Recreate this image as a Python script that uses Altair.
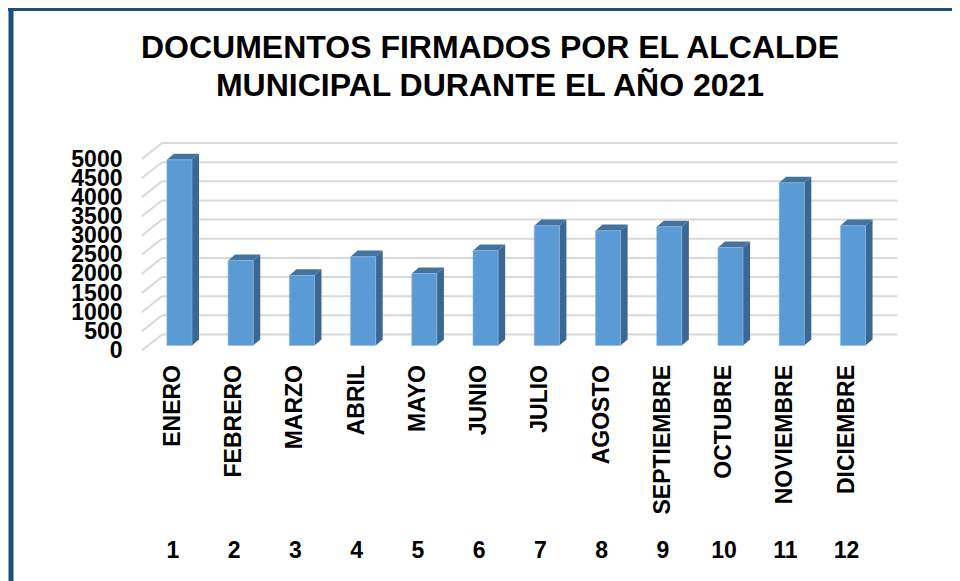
import altair as alt
import pandas as pd

# ---- data ----
months = ["ENERO", "FEBRERO", "MARZO", "ABRIL", "MAYO", "JUNIO",
          "JULIO", "AGOSTO", "SEPTIEMBRE", "OCTUBRE", "NOVIEMBRE", "DICIEMBRE"]
index = list(range(1, 13))
values = [4850, 2220, 1830, 2320, 1880, 2480, 3130, 3000, 3100, 2560, 4250, 3130]
grid_values = list(range(0, 5001, 500))

title_lines = ["DOCUMENTOS FIRMADOS POR EL ALCALDE",
               "MUNICIPAL DURANTE EL AÑO 2021"]

# ---- pseudo-3D geometry (style constants, in scale units) ----
X_DOMAIN = [0.2, 13.2]
Y_DOMAIN = [-300, 5500]
BAR_L, BAR_R = -0.10, 0.31      # front face relative to category position
DEPTH_X, DEPTH_Y = 0.115, 160   # bar depth offset
BAR_BASE = 131                  # bars sit slightly behind the front plane
BACK_DY = 420                   # back wall offset
GRID_FRONT_X, GRID_BACK_X, GRID_END_X = 0.49, 0.82, 12.83

FONT = "Liberation Sans"
FRONT = "#5B9BD5"
SIDE = "#3B6793"
TOP = "#44739F"
GRID = "#D9D9D9"
FRAME = "#1F4E79"

xs = alt.Scale(domain=X_DOMAIN, nice=False, zero=False)
ys = alt.Scale(domain=Y_DOMAIN, nice=False, zero=False)

bars = pd.DataFrame({"mes": months, "i": index, "v": values})
bars["xl"] = bars["i"] + BAR_L
bars["xr"] = bars["i"] + BAR_R
bars["base"] = BAR_BASE
bars["top"] = bars["v"] + BAR_BASE

grid = pd.DataFrame({"g": grid_values})
grid["front_y"] = grid["g"]
grid["back_y"] = grid["g"] + BACK_DY
grid["fx"] = GRID_FRONT_X
grid["bx"] = GRID_BACK_X
grid["ex"] = GRID_END_X

side_rows, top_rows = [], []
for m, i, v in zip(months, index, values):
    xr = i + BAR_R
    xl = i + BAR_L
    t = v + BAR_BASE
    side_rows.append({"mes": m, "x": xr, "y": BAR_BASE, "y2": t})
    side_rows.append({"mes": m, "x": xr + DEPTH_X, "y": BAR_BASE + DEPTH_Y, "y2": t + DEPTH_Y})
    top_rows.append({"mes": m, "y": t, "x": xl, "x2": xr})
    top_rows.append({"mes": m, "y": t + DEPTH_Y, "x": xl + DEPTH_X, "x2": xr + DEPTH_X})
side = pd.DataFrame(side_rows)
topf = pd.DataFrame(top_rows)
titles = pd.DataFrame({"t": title_lines, "line": [0, 1]})

yaxis = alt.Axis(values=grid_values, format="d", labelFontSize=23, labelFont=FONT,
                 labelFontWeight="bold", labelColor="black", domain=False,
                 ticks=False, grid=False, title=None, labelPadding=2,
                 labelOverlap=False, labelFlush=False, labelBound=False)


def Y(field):
    return alt.Y(field, scale=ys, axis=yaxis)


def X(field):
    return alt.X(field, scale=xs, axis=None)


back_lines = alt.Chart(grid).mark_rule(color=GRID, strokeWidth=2).encode(
    x=X("bx:Q"), x2="ex:Q", y=Y("back_y:Q"),
)
diag_lines = alt.Chart(grid).mark_rule(color=GRID, strokeWidth=2).encode(
    x=X("fx:Q"), x2="bx:Q", y=Y("front_y:Q"), y2="back_y:Q",
)
yaxis_layer = alt.Chart(grid).mark_point(opacity=0).encode(
    x=X("fx:Q"), y=Y("g:Q"),
)
front = alt.Chart(bars).mark_rect(color=FRONT, stroke="#8DB8E2", strokeWidth=0.6).encode(
    x=X("xl:Q"), x2="xr:Q", y=Y("base:Q"), y2="top:Q",
)
side_face = alt.Chart(side).mark_area(color=SIDE, orient="vertical").encode(
    x=X("x:Q"), y=Y("y:Q"), y2="y2:Q", detail="mes:N",
)
top_face = alt.Chart(topf).mark_area(color=TOP, orient="horizontal").encode(
    y=Y("y:Q"), x=X("x:Q"), x2="x2:Q", detail="mes:N",
)
month_labels = alt.Chart(bars).mark_text(
    angle=270, align="right", baseline="middle", font=FONT, fontSize=23,
    fontWeight="bold", color="black"
).encode(
    x=X("i:Q"), y=alt.value(225), text="mes:N",
)
num_labels = alt.Chart(bars).mark_text(
    align="center", baseline="middle", font=FONT, fontSize=23,
    fontWeight="bold", color="black"
).encode(
    x=X("i:Q"), y=alt.value(411), text="i:Q",
)


def title_line(n, ypix):
    return alt.Chart(titles).transform_filter(alt.datum.line == n).mark_text(
        align="center", baseline="alphabetic", font=FONT, fontSize=32,
        fontWeight="bold", color="black"
    ).encode(x=alt.value(366), y=alt.value(ypix), text="t:N")


frame_left = alt.Chart(bars.head(1)).mark_rule(color=FRAME, strokeWidth=5).encode(
    x=alt.value(-113), y=alt.value(-132), y2=alt.value(460),
)
frame_top = alt.Chart(bars.head(1)).mark_rule(color=FRAME, strokeWidth=4).encode(
    x=alt.value(-116), x2=alt.value(840), y=alt.value(-131),
)

chart = alt.layer(
    back_lines, diag_lines, yaxis_layer, side_face, top_face, front,
    month_labels, num_labels, frame_left, frame_top,
    title_line(0, -82), title_line(1, -44),
).properties(
    width=796, height=222,
    autosize=alt.AutoSizeParams(type="none"),
    padding={"left": 116, "top": 132, "right": 32, "bottom": 219},
).configure_view(stroke=None)

chart.save("out.html", embed_options={"renderer": "svg", "actions": False})
